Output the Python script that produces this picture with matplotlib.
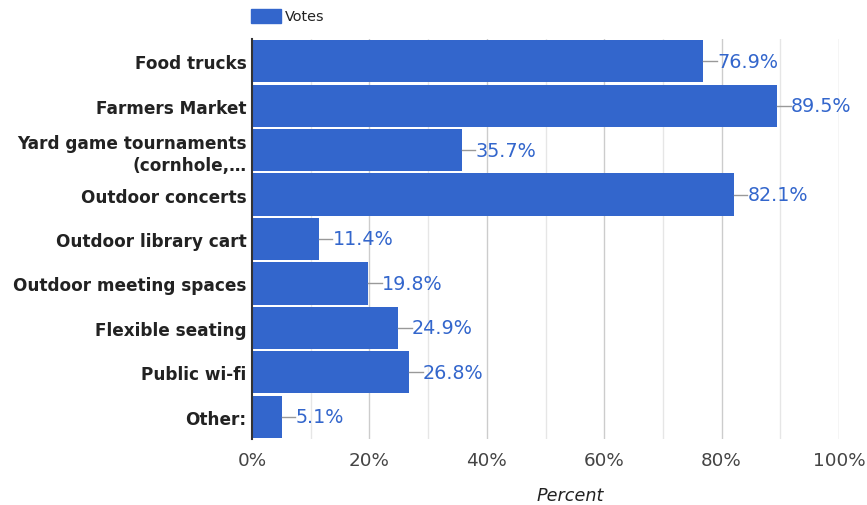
import matplotlib.pyplot as plt
from matplotlib.patches import Rectangle

categories = ["Food trucks", "Farmers Market", "Yard game tournaments\n(cornhole,…",
              "Outdoor concerts", "Outdoor library cart", "Outdoor meeting spaces",
              "Flexible seating", "Public wi-fi", "Other:"]
votes = [76.9, 89.5, 35.7, 82.1, 11.4, 19.8, 24.9, 26.8, 5.1]
xticks = [0, 20, 40, 60, 80, 100]

BLUE = "#3366cc"

fig = plt.figure(figsize=(8.67, 5.06), dpi=100)
ax = fig.add_axes([252 / 867, 1 - 440 / 506, 587 / 867, 400 / 506])

y = list(range(len(categories)))
ax.barh(y, votes, height=0.95, color=BLUE, zorder=2)
ax.set_ylim(len(categories) - 0.5, -0.5)
ax.set_xlim(0, 100)

# grid: light minor lines every 10, darker every 20
for v in range(10, 101, 10):
    ax.axvline(v, color="#cccccc" if v % 20 == 0 else "#e6e6e6", lw=1, zorder=1)

for yi, v in zip(y, votes):
    ax.plot([v, v + 2.3], [yi, yi], color="#999999", lw=1, zorder=3)
    ax.text(v + 2.3, yi, f"{v}%", va="center", ha="left", color=BLUE, fontsize=13.8)

ax.set_yticks(y)
ax.set_yticklabels(categories, fontsize=12.2, fontweight="bold", color="#222222",
                   linespacing=1.3)
ax.set_xticks(xticks)
ax.set_xticklabels([f"{t}%" for t in xticks], fontsize=13.2, color="#444444")
ax.tick_params(axis="both", length=0)
ax.tick_params(axis="x", pad=9)
ax.tick_params(axis="y", pad=4)

for s in ["top", "right", "bottom"]:
    ax.spines[s].set_visible(False)
ax.spines["left"].set_color("#333333")
ax.spines["left"].set_linewidth(1.5)
ax.spines["left"].set_zorder(4)

ax.set_xlabel("Percent", fontsize=12.7, style="italic", color="#222222", labelpad=12)
ax.xaxis.label.set_x(0.542)

# legend
fig.patches.append(Rectangle((251 / 867, 1 - 24 / 506), 30 / 867, 14 / 506,
                             transform=fig.transFigure, color=BLUE))
fig.text(285 / 867, 1 - 17 / 506, "Votes", va="center", ha="left", fontsize=10.4, color="#222222")

fig.savefig("out.png", dpi=100)
